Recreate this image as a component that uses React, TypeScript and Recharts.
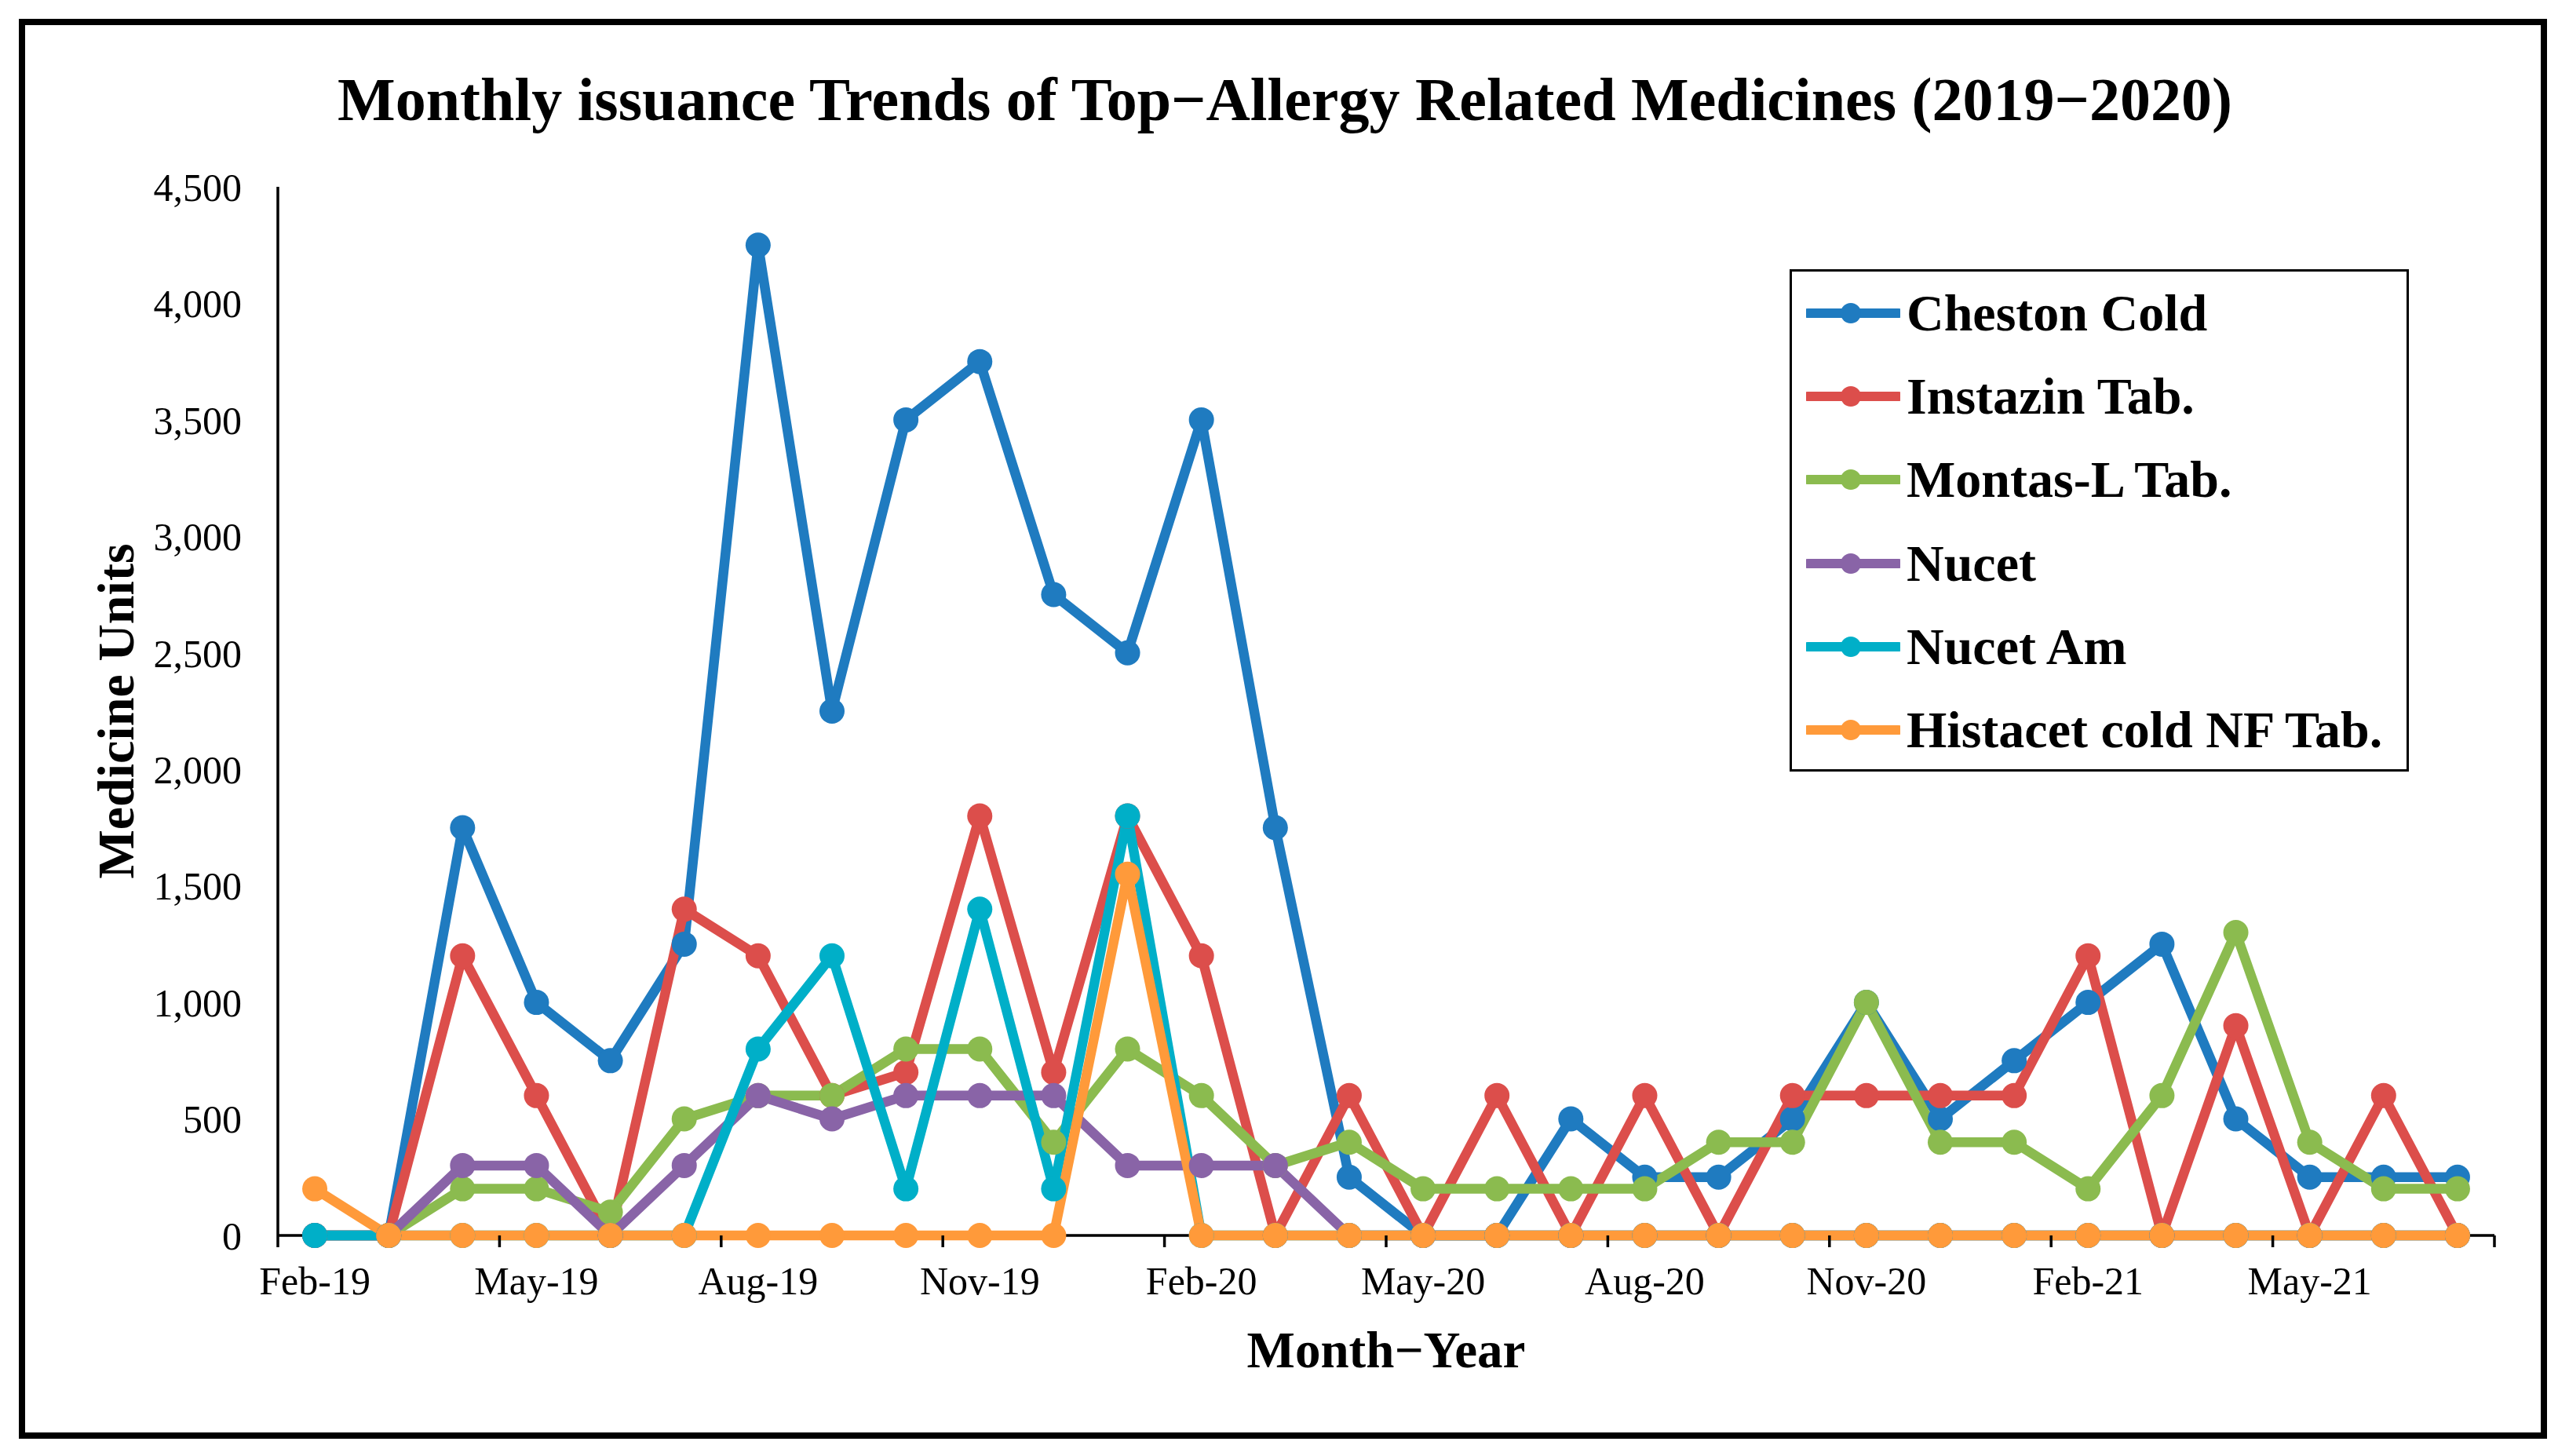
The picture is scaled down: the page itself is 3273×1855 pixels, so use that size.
import { LineChart, Line, XAxis, YAxis, Legend } from "recharts";

const months = [
  "Feb-19", "Mar-19", "Apr-19", "May-19", "Jun-19", "Jul-19", "Aug-19", "Sep-19",
  "Oct-19", "Nov-19", "Dec-19", "Jan-20", "Feb-20", "Mar-20", "Apr-20", "May-20",
  "Jun-20", "Jul-20", "Aug-20", "Sep-20", "Oct-20", "Nov-20", "Dec-20", "Jan-21",
  "Feb-21", "Mar-21", "Apr-21", "May-21", "Jun-21", "Jul-21",
];

const chestonCold = [0, 0, 1750, 1000, 750, 1250, 4250, 2250, 3500, 3750, 2750, 2500, 3500, 1750, 250, 0, 0, 500, 250, 250, 500, 1000, 500, 750, 1000, 1250, 500, 250, 250, 250];
const instazin = [0, 0, 1200, 600, 0, 1400, 1200, 600, 700, 1800, 700, 1800, 1200, 0, 600, 0, 600, 0, 600, 0, 600, 600, 600, 600, 1200, 0, 900, 0, 600, 0];
const montasL = [0, 0, 200, 200, 100, 500, 600, 600, 800, 800, 400, 800, 600, 300, 400, 200, 200, 200, 200, 400, 400, 1000, 400, 400, 200, 600, 1300, 400, 200, 200];
const nucet = [0, 0, 300, 300, 0, 300, 600, 500, 600, 600, 600, 300, 300, 300, 0, 0, 0, 0, 0, 0, 0, 0, 0, 0, 0, 0, 0, 0, 0, 0];
const nucetAm = [0, 0, 0, 0, 0, 0, 800, 1200, 200, 1400, 200, 1800, 0, 0, 0, 0, 0, 0, 0, 0, 0, 0, 0, 0, 0, 0, 0, 0, 0, 0];
const histacet = [200, 0, 0, 0, 0, 0, 0, 0, 0, 0, 0, 1550, 0, 0, 0, 0, 0, 0, 0, 0, 0, 0, 0, 0, 0, 0, 0, 0, 0, 0];

const yTicks = [0, 500, 1000, 1500, 2000, 2500, 3000, 3500, 4000, 4500];

const series = [
  { key: "cheston", name: "Cheston Cold", values: chestonCold, color: "#1F7BC0" },
  { key: "instazin", name: "Instazin Tab.", values: instazin, color: "#DC4E4B" },
  { key: "montas", name: "Montas-L Tab.", values: montasL, color: "#8BBB4F" },
  { key: "nucet", name: "Nucet", values: nucet, color: "#8964A7" },
  { key: "nucetAm", name: "Nucet Am", values: nucetAm, color: "#00AFC8" },
  { key: "histacet", name: "Histacet cold NF Tab.", values: histacet, color: "#FF9A3A" },
];

const data = months.map((m, i) => {
  const row: any = { month: m };
  series.forEach((s) => (row[s.key] = s.values[i]));
  return row;
});

const W = 3273;
const H = 1855;
const FONT = "'Liberation Serif', 'Times New Roman', serif";
const PLOT_LEFT = 354;
const PLOT_RIGHT = 3178;
const PLOT_BOTTOM = 1574;
const BAND = (PLOT_RIGHT - PLOT_LEFT) / months.length;

// tick marks sit between categories (every 3rd), labels under the category
const XTick = (props: any) => {
  const { x, y, payload } = props;
  const idx = months.indexOf(payload.value);
  const tx = x - BAND / 2;
  return (
    <g>
      <line x1={tx} y1={y} x2={tx} y2={y + 15} stroke="#000" strokeWidth={3.5} />
      {idx === months.length - 3 && (
        <line x1={x + BAND * 2.5} y1={y} x2={x + BAND * 2.5} y2={y + 15} stroke="#000" strokeWidth={3.5} />
      )}
      <text x={x} y={y + 75} textAnchor="middle" fontSize={50} fontFamily={FONT} fill="#000">
        {payload.value}
      </text>
    </g>
  );
};

// legend keeps the series order (recharts would sort it by name)
const renderLegend = () => (
  <div
    style={{
      width: 789,
      height: 640,
      boxSizing: "border-box",
      border: "3px solid #000",
      background: "#fff",
      marginTop: -4,
    }}
  >
    {series.map((s) => (
      <div key={s.key} style={{ height: 106.2, display: "flex", alignItems: "center" }}>
        <svg width={120} height={40} style={{ marginLeft: 18, flex: "none" }}>
          <line x1={2} y1={20} x2={118} y2={20} stroke={s.color} strokeWidth={12} strokeLinecap="round" />
          <circle cx={57} cy={20} r={13} fill={s.color} />
        </svg>
        <span
          style={{
            marginLeft: 8,
            fontFamily: FONT,
            fontWeight: 700,
            fontSize: 66,
            lineHeight: 1,
            color: "#000",
            whiteSpace: "nowrap",
          }}
        >
          {s.name}
        </span>
      </div>
    ))}
  </div>
);

export default function App() {
  return (
    <div style={{ position: "absolute", left: 0, top: 0, width: W, height: H, background: "#fff" }}>
      {/* category axis baseline sits under the series, as in the original */}
      <svg width={W} height={H} style={{ position: "absolute", left: 0, top: 0 }}>
        <line x1={PLOT_LEFT} y1={PLOT_BOTTOM} x2={PLOT_RIGHT} y2={PLOT_BOTTOM} stroke="#000" strokeWidth={3.5} />
      </svg>
      <div style={{ position: "absolute", left: 0, top: 0 }}>
        <LineChart
          width={W}
          height={H}
          data={data}
          margin={{ top: 238, right: W - PLOT_RIGHT, bottom: H - PLOT_BOTTOM - 100, left: PLOT_LEFT - 200 }}
        >
          <XAxis
            dataKey="month"
            scale="band"
            interval={2}
            height={100}
            tickLine={false}
            tickSize={0}
            tickMargin={0}
            axisLine={false}
            tick={<XTick />}
          />
          <YAxis
            width={200}
            domain={[0, 4500]}
            ticks={yTicks}
            tickLine={false}
            tickSize={0}
            tickMargin={46}
            axisLine={{ stroke: "#000", strokeWidth: 3.5 }}
            tick={{ fill: "#000", fontSize: 50, fontFamily: FONT }}
            tickFormatter={(v: number) => v.toLocaleString("en-US")}
          />
          <Legend
            layout="vertical"
            align="center"
            verticalAlign="middle"
            content={renderLegend}
            wrapperStyle={{ left: 2280, top: 347, width: 789, height: 640 }}
          />
          {series.map((s) => (
            <Line
              key={s.key}
              type="linear"
              dataKey={s.key}
              name={s.name}
              stroke={s.color}
              strokeWidth={12.5}
              strokeLinejoin="round"
              dot={{ r: 16, fill: s.color, stroke: s.color, strokeWidth: 0 }}
              activeDot={false}
              isAnimationActive={false}
            />
          ))}
        </LineChart>
      </div>
      <svg
        width={W}
        height={H}
        style={{ position: "absolute", left: 0, top: 0, pointerEvents: "none" }}
      >
        <rect x={28} y={28} width={3213} height={1801} fill="none" stroke="#000" strokeWidth={8} />
        <text x={1637} y={153} textAnchor="middle" fontFamily={FONT} fontWeight={700} fontSize={78} fill="#000">
          Monthly issuance Trends of Top−Allergy Related Medicines (2019−2020)
        </text>
        <text x={1766} y={1742} textAnchor="middle" fontFamily={FONT} fontWeight={700} fontSize={65} fill="#000">
          Month−Year
        </text>
        <text
          transform="translate(170,906) rotate(-90)"
          textAnchor="middle"
          fontFamily={FONT}
          fontWeight={700}
          fontSize={66}
          fill="#000"
        >
          Medicine Units
        </text>
      </svg>
    </div>
  );
}
